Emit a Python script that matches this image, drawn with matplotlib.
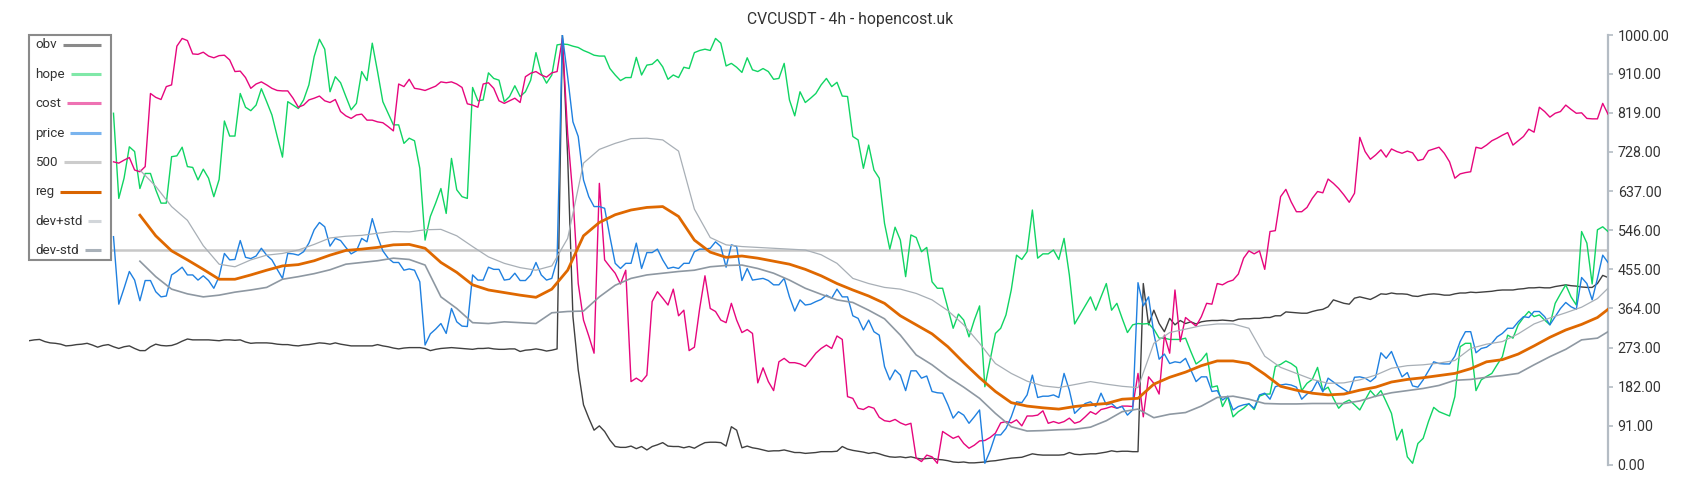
import numpy as np
import matplotlib
matplotlib.use("Agg")
import matplotlib.pyplot as plt
from matplotlib.lines import Line2D
from matplotlib.patches import Rectangle

plt.rcParams['font.family'] = ['Roboto', 'DejaVu Sans']

TITLE = "CVCUSDT - 4h - hopencost.uk"
N_BARS = 300
LINE_START = 16          # first candle drawn for hope / cost / price
LEVEL = 500
Y_TICKS = [0, 91, 182, 273, 364, 455, 546, 637, 728, 819, 910, 1000]
LABELS = ["obv", "hope", "cost", "price", "500", "reg", "dev+std", "dev-std"]

OBV = [
    289, 291, 292, 287, 284, 283, 281, 277, 278, 280, 281, 283, 279, 274, 278, 280, 275, 271, 275, 277, 271, 266, 266,
    275, 281, 278, 277, 278, 282, 288, 293, 291, 291, 291, 291, 290, 289, 291, 291, 290, 291, 286, 283, 284, 284, 284,
    283, 281, 280, 280, 278, 277, 279, 280, 282, 284, 283, 281, 284, 281, 279, 277, 277, 277, 277, 277,
    280, 277, 275, 272, 270, 272, 273, 273, 273, 271, 266, 269, 271, 272, 273, 272, 271, 270, 269, 271, 271, 272,
    270, 269, 269, 270, 270, 264, 267, 268, 270, 268, 265, 267, 270, 1000, 717, 345, 221, 140, 109, 81, 91, 78, 58,
    43, 41, 41,
    44, 38, 43, 35, 43, 47, 52, 44, 43, 43, 40, 43, 39, 46, 52, 53, 53, 52, 44, 89, 81, 40, 44, 40, 38, 35, 32, 33,
    33, 35, 32, 29, 29, 27, 28, 29, 31, 31,
    31, 32, 43, 37, 34, 32, 30, 27, 29, 26, 22, 19, 18, 19, 17, 19, 16, 14, 15, 16, 13, 12, 10, 7, 6, 7, 5, 5, 6, 7,
    9, 10, 12, 14, 16, 17, 18, 22, 26, 24, 23, 23, 23,
    23, 24, 29, 25, 24, 25, 26, 26, 28, 30, 33, 31, 32, 32, 31, 31, 422, 326, 360, 329, 310, 341, 326, 336, 329, 333,
    328, 333, 335, 336, 336, 337, 336, 335, 339, 340, 340, 341, 341, 343, 343, 347, 347,
    356, 355, 354, 353, 353, 357, 360, 362, 368, 384, 380, 376, 374, 388, 391, 388, 385, 391, 398, 397, 400, 398,
    398, 397, 393, 392, 395, 397, 398, 397, 395, 395, 398, 400, 400, 402, 401, 402, 403, 404, 406, 407, 407,
    407, 409, 410, 412, 412, 413, 412, 412, 415, 417, 419, 417, 416, 414, 413, 413, 422, 441, 436,
]

HOPE = [
    818, 620, 667, 740, 729, 643, 678, 678, 640, 609, 609, 717, 719, 739, 694, 692, 663, 688, 667, 624, 664, 800,
    765, 765, 864, 832, 824, 837, 875, 845, 814, 764, 716, 845,
    837, 829, 849, 884, 950, 990, 967, 868, 903, 889, 857, 826, 841, 915, 894, 981, 915, 845, 818, 791, 791, 748,
    760, 754, 690, 523, 578, 609, 643, 585, 713, 640, 624, 620, 878, 847, 849, 912, 899, 895, 845, 857, 882, 857,
    868, 895, 959, 911, 888,
    907, 977, 979, 978, 974, 971, 964, 959, 953, 951, 951, 922, 907, 894, 901, 901, 948, 907, 930, 932, 943, 926,
    897, 907, 901, 925, 922, 959, 964, 967, 964, 992, 981, 928, 934, 925, 913, 947, 919, 915, 922, 915, 897, 899,
    934, 849, 812, 868, 843,
    853, 864, 884, 899, 880, 890, 858, 857, 764, 756, 690, 744, 686, 667, 562, 502, 553, 523, 438, 535, 529, 496,
    506, 426, 411, 411, 364, 318, 351, 337, 298, 337, 370, 182, 244, 306, 318, 349, 407, 488, 478, 496, 593, 481,
    491, 491, 500, 478, 527, 442,
    328, 349, 370, 391, 360, 391, 422, 360, 376, 341, 308, 326, 329, 328, 329, 316, 295, 295, 292, 292, 292, 295,
    264, 235, 244, 260, 181, 184, 136, 159, 112, 124, 132, 143, 129, 160, 165, 165, 229, 234, 242, 236, 227, 173,
    190, 199, 227, 173,
    181, 155, 132, 145, 151, 140, 128, 151, 173, 159, 173, 147, 120, 58, 83, 19, 4, 50, 62, 101, 134, 124, 119, 114,
    159, 275, 283, 283, 173, 198, 206, 213, 233, 252, 302, 295, 326, 343, 357, 345, 349, 337, 326, 376, 398, 419,
    391, 372, 543, 516, 421, 547, 554, 543,
]

COST = [
    705, 702, 709, 715, 686, 682, 694, 864, 855, 850, 880, 884, 974, 992, 987, 956, 955, 960, 951, 947, 952, 953,
    942, 915, 916, 901, 876, 886, 891, 884, 876, 871, 870, 870,
    853, 832, 837, 849, 853, 858, 847, 843, 850, 822, 812, 806, 814, 816, 802, 802, 798, 796, 787, 777, 886, 880,
    897, 876, 874, 871, 876, 881, 891, 889, 891, 886, 878, 840, 837, 832, 886, 889, 876, 847, 841, 847, 853, 843,
    903, 911, 915, 907, 902,
    912, 915, 992, 771, 624, 422, 337, 300, 260, 655, 477, 461, 446, 421, 453, 194, 202, 194, 209, 380, 403, 388,
    372, 409, 347, 360, 266, 274, 364, 440, 364, 357, 337, 331, 376, 337, 308, 315, 306, 191, 226, 194, 173, 240,
    248, 238, 238, 235, 229,
    244, 260, 271, 279, 271, 300, 292, 159, 155, 132, 129, 136, 132, 111, 103, 101, 106, 98, 93, 97, 16, 8, 23, 19,
    4, 78, 70, 62, 67, 50, 39, 46, 56, 57, 64, 74, 98, 101, 98, 105, 91, 114, 114, 116, 126, 97, 101, 97, 101, 109,
    97, 101, 112, 124, 118, 129, 132, 136, 132, 137, 137, 136, 213, 112, 205, 190, 165, 302, 260, 407, 287, 343,
    333, 323, 345, 376, 374, 422, 419, 426, 430, 444, 481, 498, 491, 498, 455, 543, 545, 624, 641, 612, 589, 589,
    599, 620, 636, 633, 665, 655, 643, 628,
    611, 632, 762, 729, 711, 721, 733, 716, 735, 729, 725, 730, 726, 708, 711, 731, 735, 739, 725, 705, 667, 677,
    680, 682, 739, 736, 744, 754, 760, 767, 773, 744, 754, 764, 781, 774, 832, 822, 809, 818, 822, 837, 827, 818,
    819, 806, 805, 805, 841, 816,
]

PRICE = [
    531, 374, 411, 450, 430, 382, 429, 429, 403, 391, 393, 442, 450, 460, 442, 442, 430, 440, 429, 411, 438, 492,
    477, 478, 522, 483, 480, 486, 504, 488, 477, 455, 434, 492,
    491, 488, 496, 516, 547, 564, 554, 509, 527, 522, 506, 491, 498, 527, 519, 573, 531, 498, 481, 471, 471, 453,
    456, 453, 426, 279, 305, 316, 329, 306, 364, 333, 323, 322, 442, 430, 430, 460, 455, 455, 430, 432, 446, 429,
    429, 442, 471, 442, 430,
    434, 477, 1000, 903, 798, 764, 663, 624, 601, 601, 597, 531, 469, 457, 469, 469, 516, 457, 494, 494, 502, 477,
    457, 460, 457, 469, 469, 496, 502, 502, 504, 519, 508, 460, 512, 508, 429, 457, 430, 432, 434, 429, 419, 419,
    434, 391, 358, 384, 372,
    374, 380, 385, 395, 388, 409, 391, 391, 347, 341, 314, 337, 310, 302, 229, 198, 221, 209, 173, 219, 219, 202,
    207, 171, 168, 167, 140, 109, 124, 116, 97, 112, 128, 4, 33, 70, 70, 85, 112, 147, 145, 163, 209, 157, 160,
    160, 163, 157, 213, 174,
    120, 132, 143, 147, 136, 167, 140, 143, 132, 136, 116, 128, 424, 370, 391, 306, 246, 258, 236, 240, 238, 248,
    221, 194, 205, 205, 171, 173, 151, 160, 128, 136, 140, 142, 132, 163, 167, 153, 182, 186, 188, 186, 181, 153,
    165, 173, 196,
    170, 202, 193, 184, 176, 168, 204, 205, 202, 194, 204, 261, 248, 264, 233, 205, 215, 184, 181, 198, 219, 240,
    236, 235, 235, 253, 287, 310, 310, 261, 271, 274, 283, 298, 306, 318, 318, 333, 345, 343, 357, 357, 345, 326,
    345, 364, 378, 368, 362, 436, 422, 384, 434, 488, 471,
]

# candle indices at which the smooth band lines were read
SMOOTH_X = list(range(21, 298, 3)) + [299]

REG = [
    581, 533, 498, 477, 455, 432, 432, 442, 453, 463,
    466, 475, 488, 499, 502, 506, 512, 513, 504, 471, 448, 419, 407, 401, 395, 390,
    409, 453, 533, 564, 582, 593, 599, 601, 578, 523, 495, 483, 486, 481, 474, 467, 455,
    440, 422, 407, 393, 376, 347, 326, 305, 275, 238, 203, 171, 145, 137, 133, 130,
    136, 140, 143, 153, 155, 188, 204, 216, 231, 242, 242, 236, 211, 183, 174, 167, 163,
    165, 174, 181, 193, 199, 203, 208, 213, 224, 240, 245, 258, 277, 297, 314, 327, 343,
    362,
]

DEV_PLUS = [
    686, 648, 601, 569, 510, 467, 461, 477, 488, 492,
    500, 513, 528, 532, 534, 539, 543, 542, 547, 548, 533, 508, 484, 469, 459, 453,
    463, 527, 702, 734, 748, 759, 760, 756, 730, 595, 529, 512, 508, 506, 504, 502, 500,
    489, 469, 434, 422, 413, 409, 399, 384, 359, 326, 283, 236, 213, 195, 184, 180,
    187, 194, 188, 183, 180, 283, 308, 316, 324, 328, 328, 318, 253, 227, 213, 199, 190,
    191, 198, 209, 225, 231, 233, 237, 243, 271, 281, 287, 305, 328, 342, 354, 367, 387,
    411,
]

DEV_MINUS = [
    474, 438, 409, 398, 391, 395, 402, 407, 413, 432,
    438, 445, 454, 467, 471, 475, 481, 478, 465, 391, 364, 331, 329, 333, 331, 329,
    354, 357, 358, 391, 418, 434, 442, 446, 450, 453, 461, 464, 465, 457, 446, 430, 411,
    397, 384, 378, 360, 340, 302, 256, 233, 205, 181, 155, 120, 89, 79, 80, 82,
    83, 88, 103, 124, 130, 110, 118, 122, 137, 157, 160, 153, 143, 142, 142, 143, 143,
    143, 149, 160, 168, 173, 178, 185, 197, 199, 204, 208, 213, 233, 252, 269, 291, 295,
    310,
]

# ---------------------------------------------------------------- styling
C_OBV, C_HOPE, C_COST, C_PRICE = '#404040', '#10d463', '#e6067d', '#1f80e0'
C_500, C_REG, C_UP, C_DN = '#c8c8c8', '#df6800', '#a8afb6', '#8e98a2'
LEG_COLORS = ['#8a8a8a', '#80e8a8', '#ee72b3', '#7ab4ee', '#cccccc', '#d96400', '#d2d6da', '#a9b1b9']

W, H = 1700, 500
fig = plt.figure(figsize=(W / 100, H / 100), dpi=100)
ax = fig.add_axes([29 / W, 35 / H, 1579 / W, 430 / H])

x_full = np.arange(len(OBV))
x_line = np.arange(LINE_START, LINE_START + len(HOPE))

ax.plot(x_full, OBV, color=C_OBV, lw=1.0, zorder=2)
ax.plot(x_line, HOPE, color=C_HOPE, lw=1.0, zorder=3)
ax.plot(np.arange(LINE_START, LINE_START + len(COST)), COST, color=C_COST, lw=1.0, zorder=3)
ax.plot(np.arange(LINE_START, LINE_START + len(PRICE)), PRICE, color=C_PRICE, lw=1.0, zorder=4)
ax.axhline(LEVEL, color=C_500, lw=1.8, zorder=2.5)
ax.plot(SMOOTH_X, REG, color=C_REG, lw=2.0, zorder=5, solid_joinstyle='round')
ax.plot(SMOOTH_X, DEV_PLUS, color=C_UP, lw=0.9, zorder=4.5)
ax.plot(SMOOTH_X, DEV_MINUS, color=C_DN, lw=1.2, zorder=4.5)

ax.set_xlim(0, N_BARS - 1)
ax.set_ylim(0, 1000)
for s in ('top', 'left', 'bottom'):
    ax.spines[s].set_visible(False)
ax.spines['right'].set_color('#b4bcc4')
ax.spines['right'].set_linewidth(1.6)
ax.set_xticks([])
ax.yaxis.tick_right()
ax.set_yticks(Y_TICKS)
ax.set_yticklabels([f"{v:.2f}" for v in Y_TICKS])
ax.tick_params(axis='y', colors='#b4bcc4', labelcolor='#333333', length=3.5, width=1.2,
               labelsize=10.3, pad=3.5)
ax.set_facecolor('white')

fig.text(0.5, 1 - 19.5 / H, TITLE, ha='center', va='center', fontsize=11.3, color='#333333')

# ---------------------------------------------------------------- legend box
box = Rectangle((29 / W, 1 - 260 / H), 82 / W, 225 / H, transform=fig.transFigure,
                facecolor='white', edgecolor='#8a8a8a', lw=1.5, zorder=20)
fig.add_artist(box)
renderer = fig.canvas.get_renderer()
for k, (lab, col) in enumerate(zip(LABELS, LEG_COLORS)):
    yc = 45 + k * 29.4
    t = fig.text(35 / W, 1 - yc / H, lab, ha='left', va='center', fontsize=9.6,
                 color='#333333', zorder=21)
    bb = t.get_window_extent(renderer)
    x0 = bb.x1 + 6
    ln = Line2D([x0 / W, 101 / W], [1 - (yc - 0.5) / H] * 2, transform=fig.transFigure,
                color=col, lw=2.2, zorder=21, solid_capstyle='butt')
    fig.add_artist(ln)

fig.savefig('out.png', dpi=100, facecolor='white')
